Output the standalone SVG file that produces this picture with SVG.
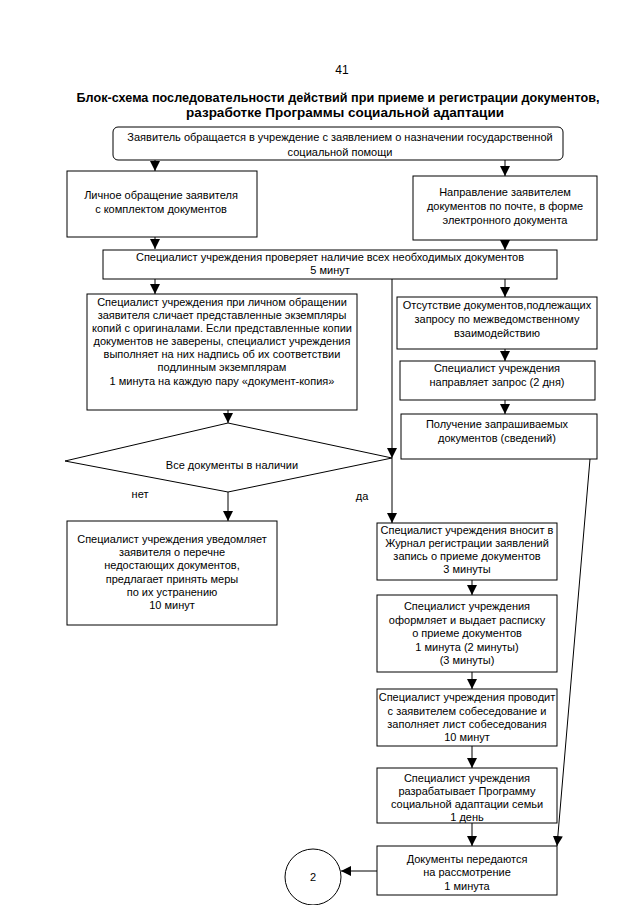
<svg xmlns="http://www.w3.org/2000/svg" width="640" height="905" viewBox="0 0 640 905">
<style>
.b{fill:#fff;stroke:#000;stroke-width:1}
.t{font-family:"Liberation Sans",Arial,sans-serif;font-size:11px;fill:#000;text-anchor:middle}
.h{font-family:"Liberation Sans",Arial,sans-serif;font-size:13.5px;font-weight:bold;fill:#000;text-anchor:middle}
.c{fill:none;stroke:#000;stroke-width:1}
</style>
<defs>
<marker id="a" markerUnits="userSpaceOnUse" markerWidth="10" markerHeight="10" refX="10" refY="5" orient="auto">
<path d="M0,0 L10,5 L0,10 z" fill="#000"/>
</marker>
</defs>
<rect width="640" height="905" fill="#fff"/>
<text class="t" x="342" y="74" style="font-size:12px">41</text>
<text class="h" x="338" y="102" textLength="523" lengthAdjust="spacingAndGlyphs">Блок-схема последовательности действий при приеме и регистрации документов,</text>
<text class="h" x="345" y="117" textLength="318" lengthAdjust="spacing">разработке Программы социальной адаптации</text>

<g id="connectors">
<line class="c" x1="155" y1="160" x2="155" y2="171" marker-end="url(#a)"/>
<line class="c" x1="505" y1="160" x2="505" y2="176" marker-end="url(#a)"/>
<line class="c" x1="155" y1="237" x2="155" y2="249" marker-end="url(#a)"/>
<line class="c" x1="505" y1="240" x2="505" y2="250" marker-end="url(#a)"/>
<line class="c" x1="155" y1="279" x2="155" y2="294" marker-end="url(#a)"/>
<line class="c" x1="392" y1="279" x2="392" y2="458" marker-end="url(#a)"/>
<line class="c" x1="505" y1="279" x2="505" y2="297" marker-end="url(#a)"/>
<line class="c" x1="505" y1="349" x2="505" y2="361" marker-end="url(#a)"/>
<line class="c" x1="505" y1="400" x2="505" y2="414" marker-end="url(#a)"/>
<line class="c" x1="228" y1="410" x2="228" y2="423" marker-end="url(#a)"/>
<line class="c" x1="228" y1="492" x2="228" y2="521" marker-end="url(#a)"/>
<line class="c" x1="392" y1="458" x2="392" y2="523" marker-end="url(#a)"/>
<line class="c" x1="590" y1="459" x2="557" y2="846" marker-end="url(#a)"/>
<line class="c" x1="472" y1="580" x2="472" y2="595" marker-end="url(#a)"/>
<line class="c" x1="472" y1="672" x2="472" y2="689" marker-end="url(#a)"/>
<line class="c" x1="472" y1="746" x2="472" y2="768" marker-end="url(#a)"/>
<line class="c" x1="472" y1="823" x2="472" y2="846" marker-end="url(#a)"/>
<line class="c" x1="377" y1="871" x2="341" y2="871" marker-end="url(#a)"/>
</g>

<g id="n_start">
<rect class="b" x="113" y="127" width="450" height="33" rx="5"/>
<text class="t" x="340" y="141">Заявитель обращается в учреждение с заявлением о назначении государственной</text>
<text class="t" x="340" y="156">социальной помощи</text>
</g>
<g id="n_personal">
<rect class="b" x="67" y="171" width="190" height="66"/>
<text class="t" x="161" y="199">Личное обращение заявителя</text>
<text class="t" x="161" y="213">с комплектом документов</text>
</g>
<g id="n_mail">
<rect class="b" x="413" y="176" width="184" height="64"/>
<text class="t" x="505" y="196">Направление заявителем</text>
<text class="t" x="505" y="210">документов по почте, в форме</text>
<text class="t" x="505" y="224">электронного документа</text>
</g>
<g id="n_check">
<rect class="b" x="103" y="250" width="454" height="29"/>
<text class="t" x="330" y="261">Специалист учреждения проверяет наличие всех необходимых документов</text>
<text class="t" x="330" y="274">5 минут</text>
</g>
<g id="n_compare">
<rect class="b" x="87" y="294" width="270" height="116"/>
<text class="t" x="222" y="306">Специалист учреждения при личном обращении</text>
<text class="t" x="222" y="319">заявителя сличает представленные экземпляры</text>
<text class="t" x="222" y="332">копий с оригиналами. Если представленные копии</text>
<text class="t" x="222" y="345">документов не заверены, специалист учреждения</text>
<text class="t" x="222" y="358">выполняет на них надпись об их соответствии</text>
<text class="t" x="222" y="371">подлинным экземплярам</text>
<text class="t" x="222" y="385">1 минута на каждую пару «документ-копия»</text>
</g>
<g id="n_absent">
<rect class="b" x="397" y="297" width="200" height="52"/>
<text class="t" x="497" y="309">Отсутствие документов,подлежащих</text>
<text class="t" x="497" y="323">запросу по межведомственному</text>
<text class="t" x="497" y="337">взаимодействию</text>
</g>
<g id="n_request">
<rect class="b" x="400" y="361" width="195" height="39"/>
<text class="t" x="497" y="372">Специалист учреждения</text>
<text class="t" x="497" y="386">направляет запрос (2 дня)</text>
</g>
<g id="n_receive">
<rect class="b" x="401" y="414" width="196" height="45"/>
<text class="t" x="497" y="428">Получение запрашиваемых</text>
<text class="t" x="497" y="442">документов (сведений)</text>
</g>
<g id="n_decision">
<polygon class="b" points="228,423 392,458 228,492 65,461"/>
<text class="t" x="232" y="469">Все документы в наличии</text>
</g>
<text class="t" x="140" y="498">нет</text>
<text class="t" x="362" y="500">да</text>
<g id="n_notify">
<rect class="b" x="67" y="521" width="210" height="104"/>
<text class="t" x="172" y="543">Специалист учреждения уведомляет</text>
<text class="t" x="172" y="556">заявителя о перечне</text>
<text class="t" x="172" y="569">недостающих документов,</text>
<text class="t" x="172" y="583">предлагает принять меры</text>
<text class="t" x="172" y="596">по их устранению</text>
<text class="t" x="172" y="609">10 минут</text>
</g>
<g id="n_journal">
<rect class="b" x="377" y="523" width="180" height="57"/>
<text class="t" x="467" y="534">Специалист учреждения вносит в</text>
<text class="t" x="467" y="547">Журнал регистрации заявлений</text>
<text class="t" x="467" y="560">запись о приеме документов</text>
<text class="t" x="467" y="573">3 минуты</text>
</g>
<g id="n_receipt">
<rect class="b" x="377" y="595" width="180" height="77"/>
<text class="t" x="467" y="610">Специалист учреждения</text>
<text class="t" x="467" y="624">оформляет и выдает расписку</text>
<text class="t" x="467" y="637">о приеме документов</text>
<text class="t" x="467" y="651">1 минута (2 минуты)</text>
<text class="t" x="467" y="664">(3 минуты)</text>
</g>
<g id="n_interview">
<rect class="b" x="377" y="689" width="180" height="57"/>
<text class="t" x="467" y="701">Специалист учреждения проводит</text>
<text class="t" x="467" y="715">с заявителем собеседование и</text>
<text class="t" x="467" y="728">заполняет лист собеседования</text>
<text class="t" x="467" y="741">10 минут</text>
</g>
<g id="n_program">
<rect class="b" x="377" y="768" width="180" height="55"/>
<text class="t" x="467" y="782">Специалист учреждения</text>
<text class="t" x="467" y="795">разрабатывает Программу</text>
<text class="t" x="467" y="808">социальной адаптации семьи</text>
<text class="t" x="467" y="821">1 день</text>
</g>
<g id="n_transfer">
<rect class="b" x="377" y="846" width="180" height="49"/>
<text class="t" x="467" y="863">Документы передаются</text>
<text class="t" x="467" y="876">на рассмотрение</text>
<text class="t" x="467" y="890">1 минута</text>
</g>
<g id="n_2">
<circle class="b" cx="313" cy="877" r="28"/>
<text class="t" x="313" y="881">2</text>
</g>
</svg>
